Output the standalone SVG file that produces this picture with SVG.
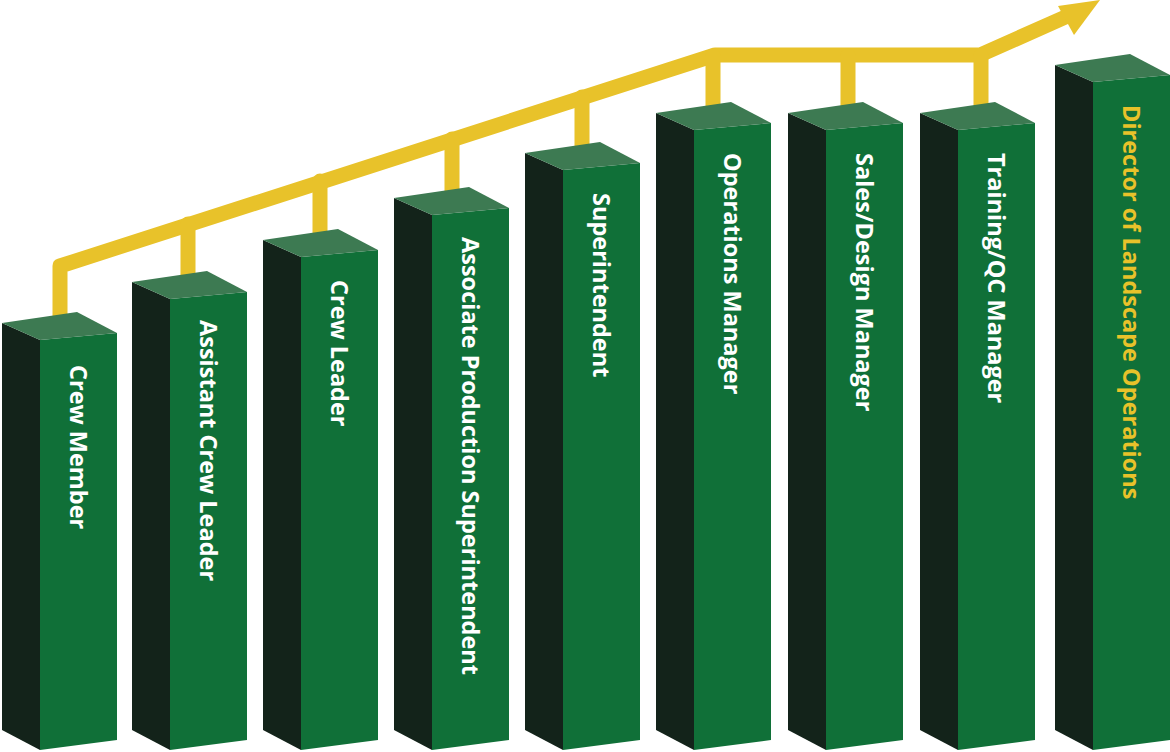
<svg xmlns="http://www.w3.org/2000/svg" width="1170" height="752" viewBox="0 0 1170 752">
<defs>
<style>
.l{fill:#13231a}.f{fill:#107038}.t{fill:#3d7a52}
.tx{font-family:"Open Sans",sans-serif;font-weight:bold;font-size:23.5px;fill:#fff}
.y{fill:#e8c22a}
.ln{fill:none;stroke:#e8c22a;stroke-width:15;stroke-linecap:round;stroke-linejoin:round}
</style>
</defs>
<g id="connectors">
<path class="ln" d="M60,318 V266 L715,55 H980 L1070,15"/>
<path class="ln" d="M188,283V224 M320,241V181 M452,199V139 M582,156V97 M713,113V56 M848,113V56 M981,113V56"/>
<polygon class="y" points="1100,0 1058,6 1074,35"/>
</g>
<g id="n1"><polygon class="l" points="2,323 40,340 40,750 2,730"/><polygon class="f" points="40,340 117,333 117,740 40,750"/><polygon class="t" points="2,323 77,312 117,333 40,340"/><text class="tx" transform="translate(70,365) rotate(90)">Crew Member</text></g>
<g id="n2"><polygon class="l" points="132,282 170,299 170,750 132,730"/><polygon class="f" points="170,299 247,292 247,740 170,750"/><polygon class="t" points="132,282 207,271 247,292 170,299"/><text class="tx" transform="translate(200,320) rotate(90)">Assistant Crew Leader</text></g>
<g id="n3"><polygon class="l" points="263,240 301,257 301,750 263,730"/><polygon class="f" points="301,257 378,250 378,740 301,750"/><polygon class="t" points="263,240 338,229 378,250 301,257"/><text class="tx" transform="translate(331,280) rotate(90)">Crew Leader</text></g>
<g id="n4"><polygon class="l" points="394,198 432,215 432,750 394,730"/><polygon class="f" points="432,215 509,208 509,740 432,750"/><polygon class="t" points="394,198 469,187 509,208 432,215"/><text class="tx" transform="translate(462,237) rotate(90)">Associate Production Superintendent</text></g>
<g id="n5"><polygon class="l" points="525,153 563,170 563,750 525,730"/><polygon class="f" points="563,170 640,163 640,740 563,750"/><polygon class="t" points="525,153 600,142 640,163 563,170"/><text class="tx" transform="translate(593,193) rotate(90)">Superintendent</text></g>
<g id="n6"><polygon class="l" points="656,113 694,130 694,750 656,730"/><polygon class="f" points="694,130 771,123 771,740 694,750"/><polygon class="t" points="656,113 731,102 771,123 694,130"/><text class="tx" transform="translate(724,153) rotate(90)">Operations Manager</text></g>
<g id="n7"><polygon class="l" points="788,113 826,130 826,750 788,730"/><polygon class="f" points="826,130 903,123 903,740 826,750"/><polygon class="t" points="788,113 863,102 903,123 826,130"/><text class="tx" transform="translate(856,153) rotate(90)">Sales/Design Manager</text></g>
<g id="n8"><polygon class="l" points="920,113 958,130 958,750 920,730"/><polygon class="f" points="958,130 1035,123 1035,740 958,750"/><polygon class="t" points="920,113 995,102 1035,123 958,130"/><text class="tx" transform="translate(988,153) rotate(90)">Training/QC Manager</text></g>
<g id="n9"><polygon class="l" points="1055,65 1093,82 1093,750 1055,730"/><polygon class="f" points="1093,82 1170,75 1170,740 1093,750"/><polygon class="t" points="1055,65 1130,54 1170,75 1093,82"/><text class="tx y" transform="translate(1123,105) rotate(90)">Director of Landscape Operations</text></g>
</svg>
